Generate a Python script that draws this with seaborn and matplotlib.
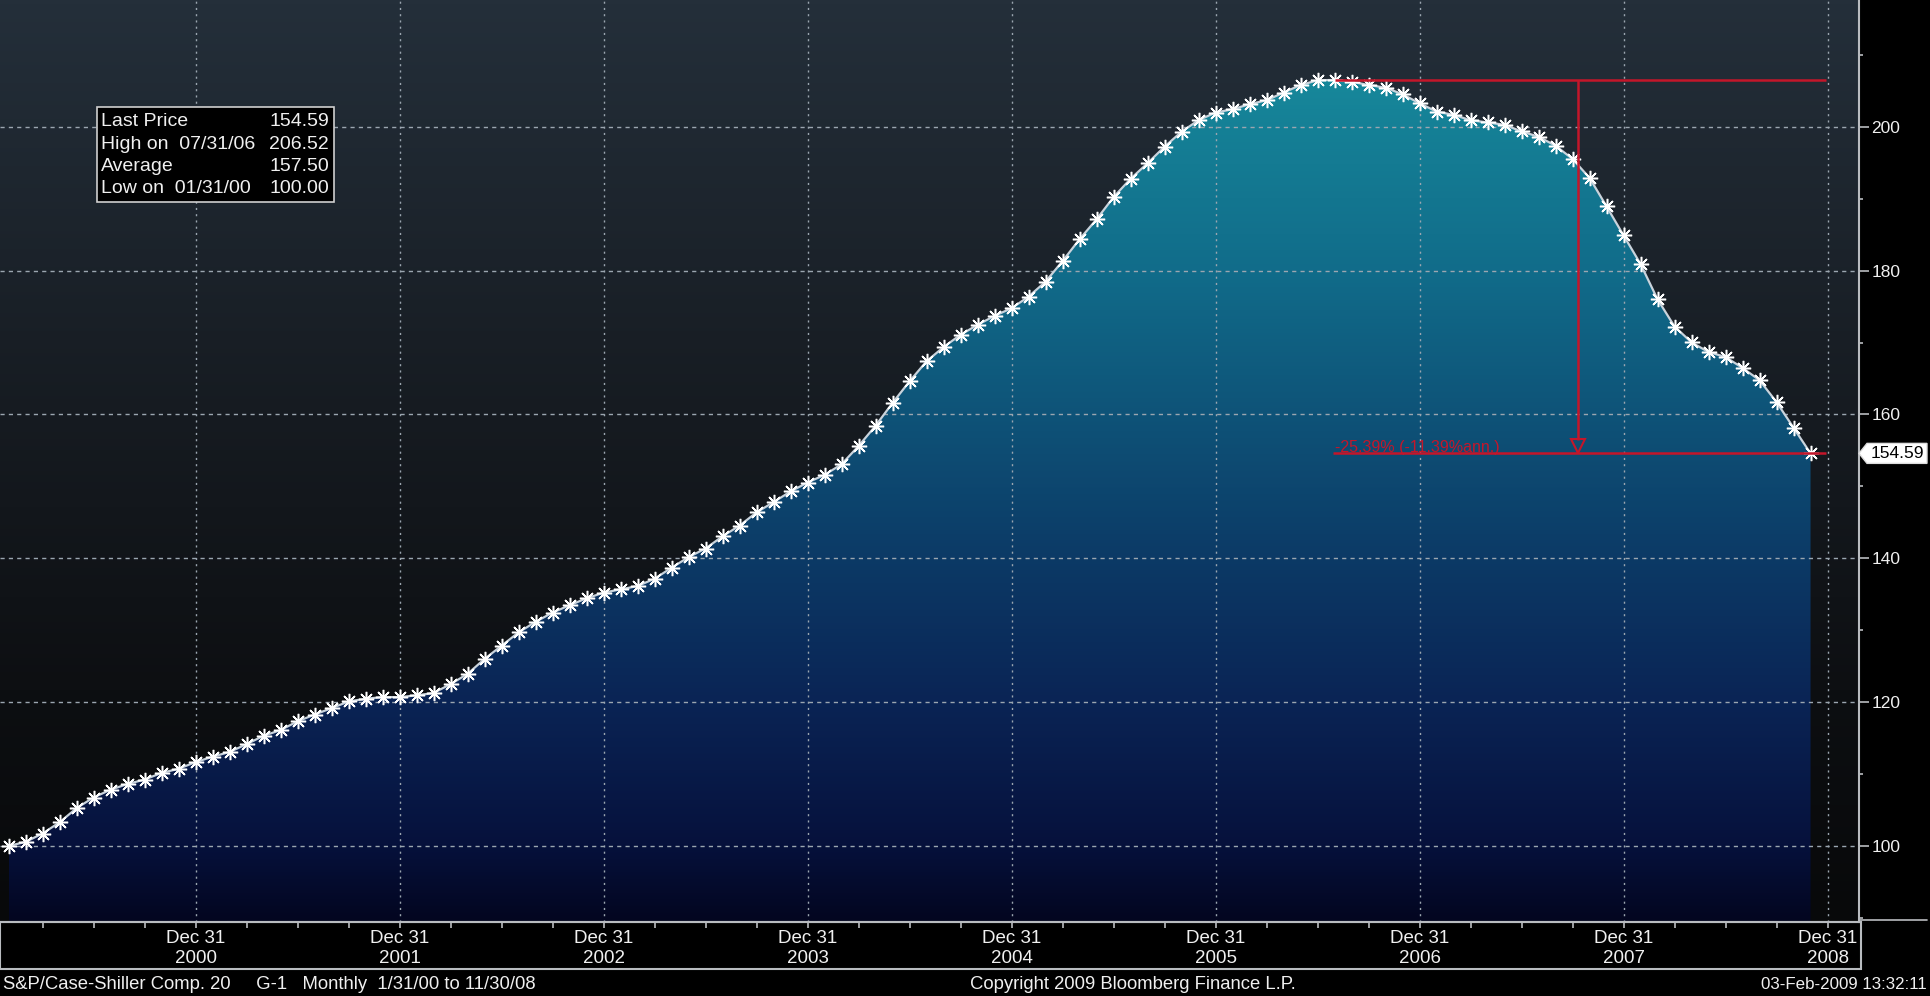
import numpy as np
import pandas as pd
import matplotlib
matplotlib.use("Agg")
import matplotlib.pyplot as plt
import seaborn as sns
from matplotlib.colors import LinearSegmentedColormap, Normalize
from matplotlib.patches import Rectangle, Polygon
from matplotlib.lines import Line2D
from matplotlib.ticker import FixedLocator
from matplotlib.transforms import blended_transform_factory

# ---- data: S&P/Case-Shiller Composite-20, monthly, Jan 2000 .. Nov 2008 ----
months = pd.date_range("2000-01-31", "2008-11-30", freq="ME")
index_values = [
    100.00, 100.56, 101.73, 103.28, 105.25, 106.74, 107.82, 108.62, 109.23, 110.16, 110.73, 111.66,
    112.41, 113.07, 114.15, 115.32, 116.11, 117.33, 118.27, 119.16, 120.09, 120.47, 120.70, 120.70,
    120.94, 121.27, 122.50, 123.92, 126.00, 127.84, 129.69, 131.16, 132.45, 133.47, 134.44, 135.22,
    135.68, 136.14, 137.16, 138.68, 140.16, 141.36, 143.06, 144.54, 146.38, 147.81, 149.29, 150.53,
    151.60, 153.07, 155.61, 158.42, 161.60, 164.60, 167.39, 169.37, 171.08, 172.46, 173.71, 174.77,
    176.38, 178.46, 181.32, 184.36, 187.13, 190.22, 192.76, 194.93, 197.23, 199.31, 200.92, 201.98,
    202.44, 203.14, 203.69, 204.75, 205.81, 206.46, 206.52, 206.27, 205.81, 205.44, 204.52, 203.27,
    202.12, 201.66, 200.92, 200.60, 200.28, 199.35, 198.62, 197.37, 195.53, 192.90, 188.93, 184.91,
    180.92, 176.01, 172.23, 170.02, 168.68, 167.99, 166.47, 164.76, 161.72, 158.15, 154.59,
]
year_labels = ["2000", "2001", "2002", "2003", "2004", "2005", "2006", "2007", "2008"]
y_major_ticks = [100, 120, 140, 160, 180, 200]
y_minor_ticks = [90, 110, 130, 150, 170, 190, 210]

stats_labels = ["Last Price", "High on  07/31/06", "Average", "Low on  01/31/00"]
stats_values = ["154.59", "206.52", "157.50", "100.00"]
change_label = "-25.39% (-11.39%ann.)"
footer_left = "S&P/Case-Shiller Comp. 20     G-1   Monthly  1/31/00 to 11/30/08"
footer_mid = "Copyright 2009 Bloomberg Finance L.P."
footer_right = "03-Feb-2009 13:32:11"

# ---- styling ----
sns.set_theme(style="dark")
plt.rcParams["font.family"] = ["Liberation Sans", "DejaVu Sans"]
RED = "#c4162a"
GRID = "#9ba6b0"
FRAME = "#b9bcc0"
TXT = "#f0f0f0"

W, H = 1931, 996
fig = plt.figure(figsize=(W / 100, H / 100), dpi=100, facecolor="black")


def fx(px):
    return px / W


def fy(py):
    return 1 - py / H


ax = fig.add_axes([0, fy(922), fx(1859), 922 / H])
ax.set_facecolor("black")

df = pd.DataFrame({"month": np.arange(len(months)), "level": index_values})
XLIM = (-0.5, 108.85)
YLIM = (89.43, 217.63)

# background: vertical slate-to-black gradient
bg_cmap = LinearSegmentedColormap.from_list(
    "bg", [(0.0, "#08090a"), (0.25, "#0d0f12"), (0.55, "#161b21"), (1.0, "#242f3a")]
)
ax.imshow(np.linspace(0, 1, 256).reshape(-1, 1), extent=[*XLIM, *YLIM], origin="lower",
          aspect="auto", cmap=bg_cmap, zorder=0, interpolation="bilinear")

# area under the curve: navy-to-teal gradient clipped to the series
top = df["level"].max()
stops = [(YLIM[0], "#030620"), (100, "#06113c"), (120, "#0a2455"), (140, "#0c3a66"),
         (160, "#0e5378"), (180, "#116c8a"), (200, "#158096"), (top, "#17889b")]
fill_cmap = LinearSegmentedColormap.from_list(
    "fill", [((v - YLIM[0]) / (top - YLIM[0]), c) for v, c in stops]
)
area = ax.fill_between(df["month"], df["level"], YLIM[0], facecolor="none", edgecolor="none")
grad = ax.imshow(np.linspace(YLIM[0], top, 512).reshape(-1, 1),
                 extent=[df["month"].iloc[0], df["month"].iloc[-1], YLIM[0], top],
                 origin="lower", aspect="auto", cmap=fill_cmap,
                 norm=Normalize(YLIM[0], top), zorder=1, interpolation="bilinear")
grad.set_clip_path(area.get_paths()[0], transform=ax.transData)

# the series line with asterisk markers
sns.lineplot(data=df, x="month", y="level", ax=ax, color="#c9d3dc", linewidth=1.6,
             marker=(8, 2, 0), markersize=11, markeredgecolor="white",
             markeredgewidth=1.1, zorder=4)

ax.set_xlim(*XLIM)
ax.set_ylim(*YLIM)
ax.set_xlabel("")
ax.set_ylabel("")

# ticks and grid
dec_ticks = [11 + 12 * k for k in range(len(year_labels))]
ax.set_xticks(dec_ticks)
ax.set_xticklabels([f"Dec 31\n{y}" for y in year_labels])
ax.xaxis.set_minor_locator(FixedLocator([m for m in range(2, 108, 3) if m not in dec_ticks]))
ax.yaxis.tick_right()
ax.set_yticks(y_major_ticks)
ax.set_yticklabels([str(v) for v in y_major_ticks])
ax.yaxis.set_minor_locator(FixedLocator(y_minor_ticks))

ax.tick_params(axis="x", which="both", direction="out", length=4, width=1.2, color=FRAME,
               labelsize=13.5, labelcolor=TXT, pad=2, bottom=True)
ax.tick_params(axis="y", which="major", direction="out", length=7, width=1.2, color=FRAME,
               labelsize=12.5, labelcolor=TXT, pad=2, right=True, left=False)
ax.tick_params(axis="y", which="minor", direction="out", length=3, width=1.2, color=FRAME,
               right=True, left=False)

ax.set_axisbelow(False)
ax.grid(False)
ax.grid(True, axis="y", which="major", linestyle=(0, (3, 3)), color=GRID, linewidth=1.0)
ax.grid(True, axis="x", which="major", linestyle=(0, (1.5, 3)), color=GRID, linewidth=1.0)
ax.grid(False, which="minor")

for side in ("left", "top"):
    ax.spines[side].set_visible(False)
for side in ("right", "bottom"):
    ax.spines[side].set_visible(True)
    ax.spines[side].set_color(FRAME)
    ax.spines[side].set_linewidth(1.5)

# peak-to-last drawdown marker
peak_pos = int(df["level"].idxmax())
peak_val = df["level"].iloc[peak_pos]
last_val = df["level"].iloc[-1]
line_end = 106.9
drop_x = 92.3
ax.hlines(peak_val, peak_pos, line_end, color=RED, linewidth=1.8, zorder=5)
ax.hlines(last_val, peak_pos - 0.1, line_end, color=RED, linewidth=1.8, zorder=5)
ax.vlines(drop_x, last_val + 1.8, peak_val, color=RED, linewidth=1.8, zorder=5)
ax.plot([drop_x], [last_val + 0.97], marker="v", markersize=10, markerfacecolor="none",
        markeredgecolor=RED, markeredgewidth=1.5, zorder=5)
ax.text(peak_pos, last_val + 0.2, change_label, color=RED, fontsize=11.5,
        ha="left", va="baseline", zorder=5)

# last-price flag on the value axis
flag_tr = blended_transform_factory(fig.transFigure, ax.transData)
half = 1.39
flag = Polygon([(fx(1859), last_val), (fx(1867), last_val + half), (fx(1927), last_val + half),
                (fx(1927), last_val - half), (fx(1867), last_val - half)],
               closed=True, transform=flag_tr, facecolor="white", edgecolor="#dddddd",
               clip_on=False, zorder=6)
fig.add_artist(flag)
fig.add_artist(matplotlib.text.Text(fx(1897), last_val, f"{last_val:.2f}", transform=flag_tr,
                                    ha="center", va="center", color="black", fontsize=12.5,
                                    zorder=7))

# frames around the date axis and value axis
fig.add_artist(Rectangle((0, fy(969)), fx(1861), (969 - 922) / H, transform=fig.transFigure,
                         fill=False, edgecolor=FRAME, linewidth=1.5))
fig.add_artist(Line2D([fx(1859), fx(1927)], [fy(920), fy(920)], transform=fig.transFigure,
                      color=FRAME, linewidth=1.2))

# statistics box
fig.add_artist(Rectangle((fx(97), fy(202)), fx(334) - fx(97), (202 - 107) / H,
                         transform=fig.transFigure, facecolor="black", edgecolor="#cfcfcf",
                         linewidth=1.2, zorder=5))
for k, (lab, val) in enumerate(zip(stats_labels, stats_values)):
    yc = fy(122 + 22.1 * k)
    fig.text(fx(101), yc, lab, color=TXT, fontsize=14, ha="left", va="center", zorder=6)
    fig.text(fx(329), yc, val, color=TXT, fontsize=14, ha="right", va="center", zorder=6)

# footer
fig.text(fx(3), fy(984), footer_left, color=TXT, fontsize=13.3, ha="left", va="center")
fig.text(fx(1133), fy(984), footer_mid, color=TXT, fontsize=13.3, ha="center", va="center")
fig.text(fx(1927), fy(984), footer_right, color=TXT, fontsize=12.2, ha="right", va="center")

fig.savefig("out.png", dpi=100, facecolor="black")
